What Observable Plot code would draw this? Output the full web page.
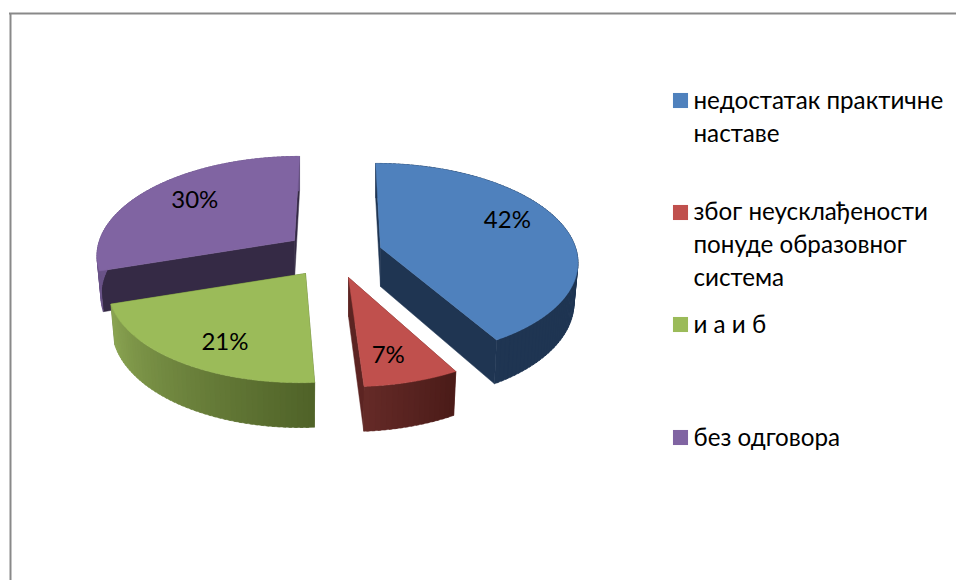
<!DOCTYPE html>
<html>
<head>
<meta charset="utf-8">
<script src="https://cdn.jsdelivr.net/npm/d3@7"></script>
<script src="https://cdn.jsdelivr.net/npm/@observablehq/plot@0.6"></script>
<style>html,body{margin:0;padding:0;background:#fff}svg{display:block}</style>
</head>
<body>
<div id="chart"></div>
<script>
const categories = ["недостатак практичне\nнаставе", "због неусклађености\nпонуде образовног\nсистема", "и а и б", "без одговора"];
const shares = [42, 7, 21, 30];
const topColors = ["#4f81bd", "#c0504d", "#9bbb59", "#8064a2"];
const innerWallColors = ["#1f3552", "#5c2422", "#4f6228", "#352a45"];
const outerWallFrom = ["#1f3552", "#4a1b18", "#4f6228", "#6b5489"];
const outerWallTo = ["#1f3552", "#652a27", "#8ca653", "#6b5489"];

// Exploded-slice anchor of each wedge and label nudges (layout, not data)
const apexX = [380, 348, 305, 294];
const apexY = [247, 277, 273, 240];
const endTrim = [-1.5, 0, 0, 0];
const labelLiftX = [6, 0, -1, -2];
const labelLiftY = [-11, 12, 13, -5];
const legendSwatchY = [100, 212, 324, 437];
const legendTextY = [98, 209, 322, 435];
const lineGap = 33;
const paintOrder = [3, 0, 2, 1];

const R = 195, RY = 95, K = 0.13, THICK = 39, CENTER = 338, SHRINK = 0.98, LABEL_F = 0.66;
const total = d3.sum(shares);
const rad = d => d * Math.PI / 180;

function project(i, deg, f = 1, depth = 0) {
  const u = Math.sin(rad(deg)) * f, v = -Math.cos(rad(deg)) * f;
  const s = 1 / (1 - K * v);
  const rx = depth ? R * SHRINK : R;
  return {
    x: apexX[i] + rx * u * s + (apexX[i] - CENTER) * (s - 1) * f,
    y: apexY[i] + RY * v * s + depth * THICK * s
  };
}

let acc = 0;
const spans = shares.map((v, i) => { const a0 = acc / total * 360; acc += v; return [a0, acc / total * 360 + endTrim[i]]; });

const polys = [];
let pid = 0;
function addPoly(points, c) {
  const id = pid++;
  for (const p of [...points, points[0]]) polys.push({id, c, x: p.x, y: p.y});
}
for (const i of paintOrder) {
  const [a0, a1] = spans[i];
  const ax = {x: apexX[i], y: apexY[i]};
  const ab = {x: apexX[i], y: apexY[i] + THICK};
  for (const a of [a0, a1]) {
    addPoly([ax, project(i, a), project(i, a, 1, 1), ab], innerWallColors[i]);
  }
  const mix = d3.interpolateRgb(outerWallFrom[i], outerWallTo[i]);
  const n = Math.ceil((a1 - a0) / 1.5);
  const step = (a1 - a0) / n;
  for (let k = 0; k < n; k++) {
    const b0 = a0 + step * k, b1 = Math.min(a1, a0 + step * (k + 1.5));
    addPoly([project(i, b0), project(i, b1), project(i, b1, 1, 1), project(i, b0, 1, 1)], mix((k + 0.5) / n));
  }
  const pts = [ax];
  for (let k = 0; k <= 120; k++) pts.push(project(i, a0 + (a1 - a0) * k / 120));
  addPoly(pts, topColors[i]);
}

const labels = shares.map((v, i) => {
  const p = project(i, (spans[i][0] + spans[i][1]) / 2, LABEL_F);
  return {t: v + "%", x: p.x + labelLiftX[i], y: p.y + labelLiftY[i]};
});

const legendSwatches = categories.map((c, i) => ({c: topColors[i], y: legendSwatchY[i]}));
const legendText = categories.map((t, i) => ({t, y: legendTextY[i] + (t.split("\n").length - 1) * lineGap / 2}));

const FONT = "Lato, 'Open Sans', 'Noto Sans', sans-serif";
const FS = 24.2;
const chart = Plot.plot({
  width: 956, height: 580,
  marginTop: 0, marginRight: 0, marginBottom: 0, marginLeft: 0,
  x: {domain: [0, 956], range: [0, 956], axis: null},
  y: {domain: [0, 580], range: [0, 580], axis: null},
  color: {type: "identity"},
  style: {background: "#fff", fontFamily: FONT},
  marks: [
    Plot.ruleX([10], {y1: 13, y2: 580, stroke: "#898989", strokeWidth: 2}),
    Plot.ruleY([13], {x1: 9, x2: 956, stroke: "#898989", strokeWidth: 2}),
    Plot.line(polys, {x: "x", y: "y", z: "id", fill: "c", stroke: "c", strokeWidth: 0.5}),
    Plot.text(labels, {x: "x", y: "y", text: "t", fontSize: 24, fill: "#000", textAnchor: "middle", lineAnchor: "middle"}),
    Plot.dot(legendSwatches, {x: () => 680, y: "y", symbol: "square", r: 8.5, fill: "c", stroke: "none"}),
    Plot.text(legendText, {x: () => 693, y: "y", text: "t", fontSize: FS, fill: "#000", textAnchor: "start", lineAnchor: "middle", lineHeight: lineGap / FS})
  ]
});
document.getElementById("chart").append(chart);
</script>
</body>
</html>
